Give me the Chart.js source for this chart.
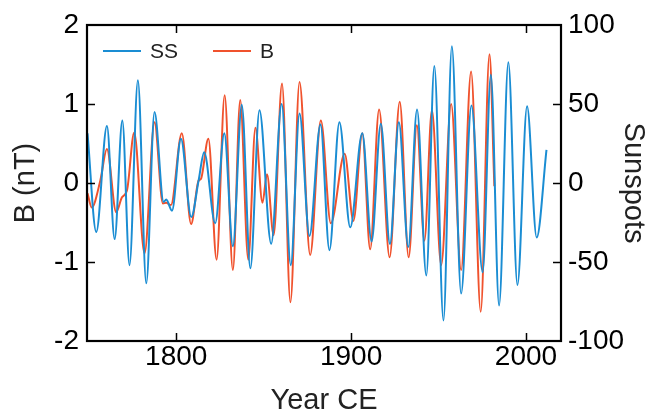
<!DOCTYPE html>
<html><head><meta charset="utf-8">
<script src="https://cdn.jsdelivr.net/npm/chart.js@4"></script>
<style>html,body{margin:0;padding:0;background:#fff;}canvas{display:block;}</style>
</head><body>
<canvas id="c" width="656" height="416"></canvas>
<script>
// Sunspot (SS) series, right axis (sunspots)
const ssYears = [1749.3,1754.3,1760.4,1764.8,1769.2,1773.3,1778.1,1782.9,1787.6,1792.8,1794.3,1797.6,1802.7,1808.6,1812.8,1816.0,1822.3,1827.5,1832.4,1837.5,1842.4,1847.6,1854.3,1860.3,1865.5,1870.5,1876.2,1882.5,1887.6,1893.3,1899.5,1906.4,1911.7,1917.0,1922.2,1927.3,1932.7,1937.7,1943.0,1947.6,1952.8,1957.6,1962.9,1968.8,1975.2,1979.9,1984.6,1989.9,1995.1,2000.6,2006.1,2011.7];
const ssValues = [31.5,-31,36,-35.5,39.5,-52,65,-63.5,45,-12,-10.5,-17.5,28,-21.5,1.5,19.5,-25.5,31.5,-40,49.5,-54,46,-38.5,50,-52,44,-33.5,37,-42.5,38.5,-28,31.5,-37,37.5,-38.5,38.5,-40.5,46.5,-58.5,74,-87,86.5,-70,49,-56.5,68.5,-77.5,76.5,-64.5,48.5,-34.5,21];
// B series, left axis (nT)
const bYears = [1749.3,1751.7,1756.6,1760.4,1765.7,1769.0,1771.9,1776.0,1781.9,1787.6,1792.4,1794.3,1797.0,1803.2,1808.5,1812.8,1814.1,1818.4,1823.1,1827.7,1832.4,1836.6,1841.2,1845.3,1849.3,1851.9,1855.7,1860.5,1865.3,1870.5,1876.6,1882.7,1888.4,1896.3,1901.3,1906.4,1910.9,1916.0,1922.0,1927.8,1932.9,1937.6,1941.9,1946.2,1951.5,1957.2,1962.9,1968.6,1974.1,1979.1,1981.9];
const bValues = [-0.13,-0.31,0.03,0.43,-0.37,-0.18,-0.09,0.64,-0.89,0.77,-0.26,-0.25,-0.28,0.63,-0.52,0.03,0.05,0.56,-0.97,1.11,-1.10,1.05,-0.97,0.70,-0.25,0.11,-0.66,1.26,-1.51,1.28,-0.91,0.79,-0.51,0.37,-0.48,0.63,-0.84,0.93,-0.94,1.03,-0.94,0.73,-0.73,0.92,-1.04,1.00,-1.10,1.41,-1.63,1.63,-0.04];
// Tick labels
const xTicks = [1800,1900,2000];
const yTicks = [-2,-1,0,1,2];
const y2Ticks = [-100,-50,0,50,100];
const seriesLabels = ['SS','B'];

const BLUE = '#1a8dd3';
const RED = '#f0522d';
const FONT = "'Liberation Sans', Arial, Helvetica, sans-serif";

const framePlugin = {
  id: 'frame',
  afterDatasetsDraw(chart) {
    const {ctx, chartArea: a, scales} = chart;
    ctx.save();
    ctx.strokeStyle = '#000';
    ctx.lineWidth = 1.5;
    const L = 8;
    ctx.beginPath();
    scales.x.ticks.forEach(t => {
      const px = Math.round(scales.x.getPixelForValue(t.value)) + 0.5;
      ctx.moveTo(px, a.bottom); ctx.lineTo(px, a.bottom - L);
      ctx.moveTo(px, a.top); ctx.lineTo(px, a.top + L);
    });
    scales.y.ticks.forEach(t => {
      if (t.value <= scales.y.min || t.value >= scales.y.max) return;
      const py = Math.round(scales.y.getPixelForValue(t.value)) + 0.5;
      ctx.moveTo(a.left, py); ctx.lineTo(a.left + L, py);
    });
    scales.y2.ticks.forEach(t => {
      if (t.value <= scales.y2.min || t.value >= scales.y2.max) return;
      const py = Math.round(scales.y2.getPixelForValue(t.value)) + 0.5;
      ctx.moveTo(a.right, py); ctx.lineTo(a.right - L, py);
    });
    ctx.stroke();
    ctx.lineWidth = 2.2;
    ctx.strokeRect(a.left, a.top, a.right - a.left, a.bottom - a.top);
    ctx.restore();
  }
};

const legendPlugin = {
  id: 'insideLegend',
  afterDraw(chart) {
    const {ctx, chartArea: a} = chart;
    const y = a.top + 26;
    const items = [
      {x: a.left + 16, color: chart.data.datasets[0].borderColor, text: chart.data.datasets[0].label},
      {x: a.left + 126, color: chart.data.datasets[1].borderColor, text: chart.data.datasets[1].label}
    ];
    ctx.save();
    ctx.font = "21px " + FONT;
    ctx.textBaseline = 'middle';
    ctx.textAlign = 'left';
    items.forEach(it => {
      ctx.strokeStyle = it.color; ctx.lineWidth = 2;
      ctx.beginPath(); ctx.moveTo(it.x, y); ctx.lineTo(it.x + 38, y); ctx.stroke();
      ctx.fillStyle = '#222';
      ctx.fillText(it.text, it.x + 47, y + 1);
    });
    ctx.restore();
  }
};

const tickFont = {family: FONT, size: 28, lineHeight: 1};
const titleFont = {family: FONT, size: 29, lineHeight: 1};

new Chart(document.getElementById('c'), {
  type: 'line',
  data: {
    datasets: [
      {label: seriesLabels[0], data: ssYears.map((x, i) => ({x, y: ssValues[i]})), yAxisID: 'y2',
       borderColor: BLUE, borderWidth: 2, pointRadius: 0, cubicInterpolationMode: 'monotone', fill: false},
      {label: seriesLabels[1], data: bYears.map((x, i) => ({x, y: bValues[i]})), yAxisID: 'y',
       borderColor: RED, borderWidth: 2, pointRadius: 0, cubicInterpolationMode: 'monotone', fill: false}
    ]
  },
  options: {
    responsive: false, animation: false, events: [],
    layout: {padding: {top: 25, left: 0, right: 0, bottom: 0}},
    plugins: {legend: {display: false}, tooltip: {enabled: false}},
    scales: {
      x: {
        type: 'linear', position: 'bottom', min: 1749, max: 2020,
        afterBuildTicks: s => { s.ticks = xTicks.map(v => ({value: v})); },
        afterFit: s => { s.height = 75; },
        grid: {display: false, drawTicks: false}, border: {display: false},
        ticks: {padding: 2, font: tickFont, color: '#000', maxRotation: 0, autoSkip: false, callback: v => String(v)},
        title: {display: true, text: 'Year CE', font: titleFont, color: '#222', padding: {top: 0, bottom: 1}}
      },
      y: {
        type: 'linear', position: 'left', min: -2, max: 2,
        afterBuildTicks: s => { s.ticks = yTicks.map(v => ({value: v})); },
        afterFit: s => { s.width = 87; },
        grid: {display: false, drawTicks: false}, border: {display: false},
        ticks: {padding: 8, font: tickFont, color: '#000', autoSkip: false, callback: v => String(v)},
        title: {display: true, text: 'B (nT)', font: titleFont, color: '#222', padding: {top: 11, bottom: 0}}
      },
      y2: {
        type: 'linear', position: 'right', min: -100, max: 100,
        afterBuildTicks: s => { s.ticks = y2Ticks.map(v => ({value: v})); },
        afterFit: s => { s.width = 95; },
        grid: {display: false, drawTicks: false}, border: {display: false},
        ticks: {padding: 7, font: tickFont, color: '#000', autoSkip: false, callback: v => String(v)},
        title: {display: true, text: 'Sunspots', font: titleFont, color: '#222', padding: {top: 9, bottom: 0}}
      }
    }
  },
  plugins: [framePlugin, legendPlugin]
});
</script>
</body></html>
